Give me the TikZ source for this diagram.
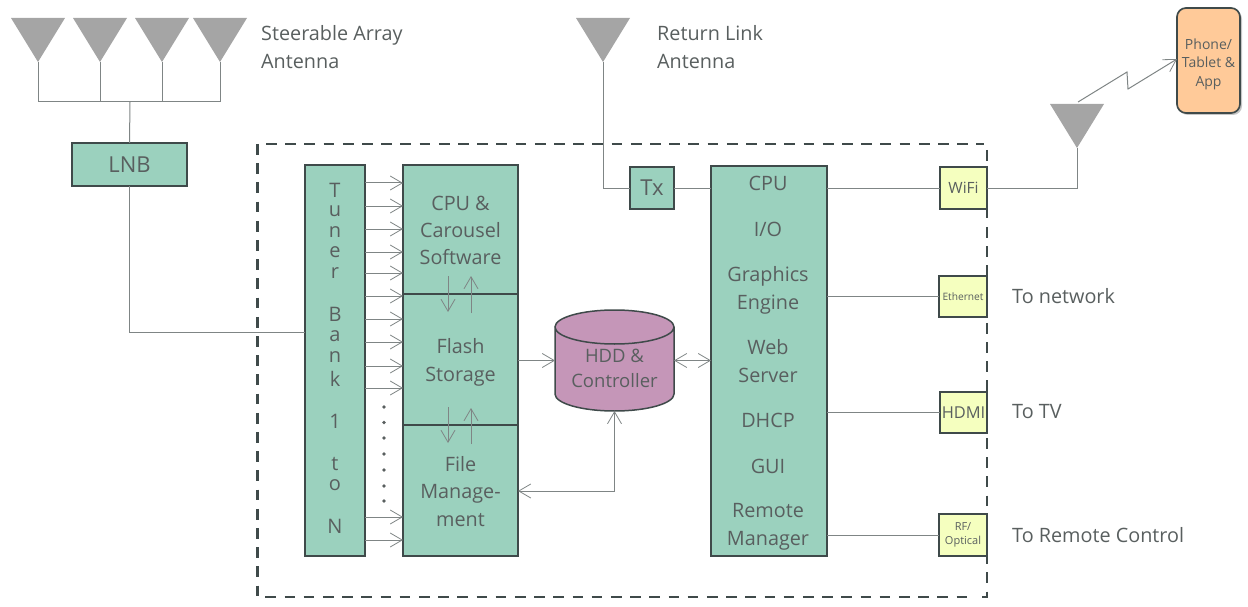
\documentclass[tikz,border=0pt]{standalone}
\usepackage{fontspec}
\setmainfont{Open Sans}
\usetikzlibrary{arrows.meta,shadows,calc}
\definecolor{teal}{HTML}{9BD1BE}
\definecolor{edge}{HTML}{3F4A4A}
\definecolor{ink}{HTML}{595F5F}
\definecolor{wire}{HTML}{7F8585}
\definecolor{ant}{HTML}{A5A5A5}
\definecolor{hddc}{HTML}{C596B8}
\definecolor{yel}{HTML}{F5FFBF}
\definecolor{org}{HTML}{FFCA99}
\tikzset{
  block/.style={draw=edge,line width=1.7pt,fill=teal,text=ink,outer sep=0pt,inner sep=0pt,align=center,font=\fontsize{19.8}{27.3}\selectfont},
  port/.style={draw=edge,line width=1.7pt,fill=yel,text=ink,outer sep=0pt,inner sep=0pt,align=center},
  lab/.style={text=ink,anchor=west,inner sep=0pt,align=left,font=\fontsize{19.8}{27.3}\selectfont},
  item/.style={text=ink,inner sep=0pt,font=\fontsize{19.8}{27.3}\selectfont},
  wireline/.style={draw=wire,line width=1pt},
  arr/.style={wireline,-{Straight Barb[length=12pt,width=14pt,line width=0.8pt]}},
  darr/.style={wireline,{Straight Barb[length=12pt,width=14pt,line width=0.8pt]}-{Straight Barb[length=12pt,width=14pt,line width=0.8pt]}},
  antenna/.style={fill=ant,draw=none},
}
\newcommand{\antennaat}[1]{\fill[antenna] (#1) -- ++(-27,-44) -- ++(54,0) -- cycle;}
\begin{document}
\begin{tikzpicture}[x=1pt,y=-1pt]
\useasboundingbox (0,0) rectangle (1248,607);
% enclosure
\draw[edge,line width=2.8pt,dash pattern=on 10.7pt off 8.5pt]
  (266,144) -- (984,144)
  (987,150) -- (987,597) -- (980,597)
  (257.5,144) -- (257.5,597) -- (975,597);
% antennas
\coordinate (a1) at (38,62);
\coordinate (a2) at (100,62);
\coordinate (a3) at (162,62);
\coordinate (a4) at (220,62);
\coordinate (ret) at (603,62);
\coordinate (wifiant) at (1077,148);
\foreach \a in {a1,a2,a3,a4,ret,wifiant}{\antennaat{\a}}
% blocks
\node[block,minimum width=115,minimum height=43,font=\fontsize{22}{27}\selectfont] (lnb) at (129.5,164.5) {LNB};
\node[block,minimum width=60,minimum height=391] (tuner) at (335,360.5) {};
\node[block,minimum width=115,minimum height=129] (sw) at (460.5,229.5) {\rule{0pt}{16pt}CPU \&\\Carousel\\Software};
\node[block,minimum width=115,minimum height=131] (flash) at (460.5,359.5) {\rule{0pt}{21pt}Flash\\Storage};
\node[block,minimum width=115,minimum height=131] (file) at (460.5,490.5) {\rule{0pt}{17pt}File\\Manage-\\ment};
\node[block,minimum width=44,minimum height=42,font=\fontsize{22}{27}\selectfont] (tx) at (652,188) {Tx};
\node[block,minimum width=116,minimum height=390] (cpu) at (769,361) {};
% tuner letters
\foreach \t/\y in {T/190,u/211.5,n/232.5,e/252.5,r/273.5,B/314.5,a/336.5,n/357.5,k/378.5,1/421.5,t/464.5,o/485.5,N/526.5}{
  \node[item,font=\fontsize{20}{22}\selectfont] at (335,\y) {\t};}
% cpu column
\foreach \t/\y in {CPU/183,I\slash O/229,Graphics/276,Engine/305,Web/347,Server/375,DHCP/420,GUI/466,Remote/511,Manager/541}{
  \node[item] at (768,\y) {\t};}
% HDD
\path[fill=hddc,draw=edge,line width=1.5pt] (555,327) -- (555,394) arc[start angle=180,end angle=360,x radius=59.5,y radius=-17] -- (674,327) arc[start angle=0,end angle=360,x radius=59.5,y radius=-17];
\node[inner sep=0pt,outer sep=0pt,minimum width=119,minimum height=101,text=ink,align=center,font=\fontsize{18.5}{25}\selectfont] (hdd) at (614.5,360.5) {\\[4pt]HDD \&\\Controller};
% ports
\node[port,minimum width=47,minimum height=42,font=\fontsize{15.5}{17}\selectfont] (wifi) at (963.5,188) {WiFi};
\node[port,minimum width=48,minimum height=41,font=\fontsize{10.2}{11}\selectfont] (eth) at (963,296.5) {Ethernet};
\node[port,minimum width=47,minimum height=41,font=\fontsize{16.4}{18}\selectfont] (hdmi) at (963.5,412.5) {HDMI};
\node[port,minimum width=48,minimum height=42,font=\fontsize{11}{13.5}\selectfont] (rf) at (963,535) {RF/\\Optical};
\node[draw=edge,line width=1.7pt,fill=org,rounded corners=9pt,minimum width=63,minimum height=105,inner sep=0pt,outer sep=0pt,text=ink,align=center,font=\fontsize{14}{18.5}\selectfont,drop shadow={shadow xshift=2pt,shadow yshift=-2pt,opacity=0.45}] (phone) at (1208.5,60.5) {\rule{0pt}{18pt}Phone/\\Tablet \&\\App};
% labels
\node[lab] (l1) at (261,47) {Steerable Array\\Antenna};
\node[lab] (l2) at (657,47) {Return Link\\Antenna};
\node[lab] (l3) at (1012,296) {To network};
\node[lab] (l4) at (1012,412) {To TV};
\node[lab] (l5) at (1012,535) {To Remote Control};
% array feed
\coordinate (bus) at (130,102);
\draw[wireline] (a1) |- (a4 |- bus) -- (a4);
\draw[wireline] (a2) -- (a2 |- bus);
\draw[wireline] (a3) -- (a3 |- bus);
\draw[wireline] (bus) -- (lnb.north);
\draw[wireline] (lnb.south) |- (tuner.west |- 0,332);
% tuner outputs
\foreach \y in {183,206,229,252,273,296}{\draw[arr] (tuner.east |- 0,\y) -- (sw.west |- 0,\y);}
\foreach \y in {319,342,366,388}{\draw[arr] (tuner.east |- 0,\y) -- (flash.west |- 0,\y);}
\foreach \y in {517,540}{\draw[arr] (tuner.east |- 0,\y) -- (file.west |- 0,\y);}
\foreach \y in {407,422.5,438,454,470,486,501}{\fill[ink] (384,\y) circle (1.8);}
% block links
\draw[arr] (448,276) -- (448,312);
\draw[arr] (471,313) -- (471,276);
\draw[arr] (448,407) -- (448,443);
\draw[arr] (471,444) -- (471,408);
\draw[arr] (flash.east |- hdd.west) -- (hdd.west);
\draw[darr] (hdd.east) -- (cpu.west |- hdd.east);
\draw[darr] (file.east |- 0,491) -| (hdd.south);
% return link
\draw[wireline] (ret) |- (tx.west);
\draw[wireline] (tx.east) -- (cpu.west |- tx.east);
% ports
\draw[wireline] (cpu.east |- wifi.west) -- (wifi.west);
\draw[wireline] (cpu.east |- eth.west) -- (eth.west);
\draw[wireline] (cpu.east |- hdmi.west) -- (hdmi.west);
\draw[wireline] (cpu.east |- rf.west) -- (rf.west);
\draw[wireline] (wifi.east) -| (wifiant);
\coordinate (wl) at (1078,102);
\draw[arr] (wl) -- (1127,72) -- (1128,89) -- (phone.west |- 0,59);
\end{tikzpicture}
\end{document}
